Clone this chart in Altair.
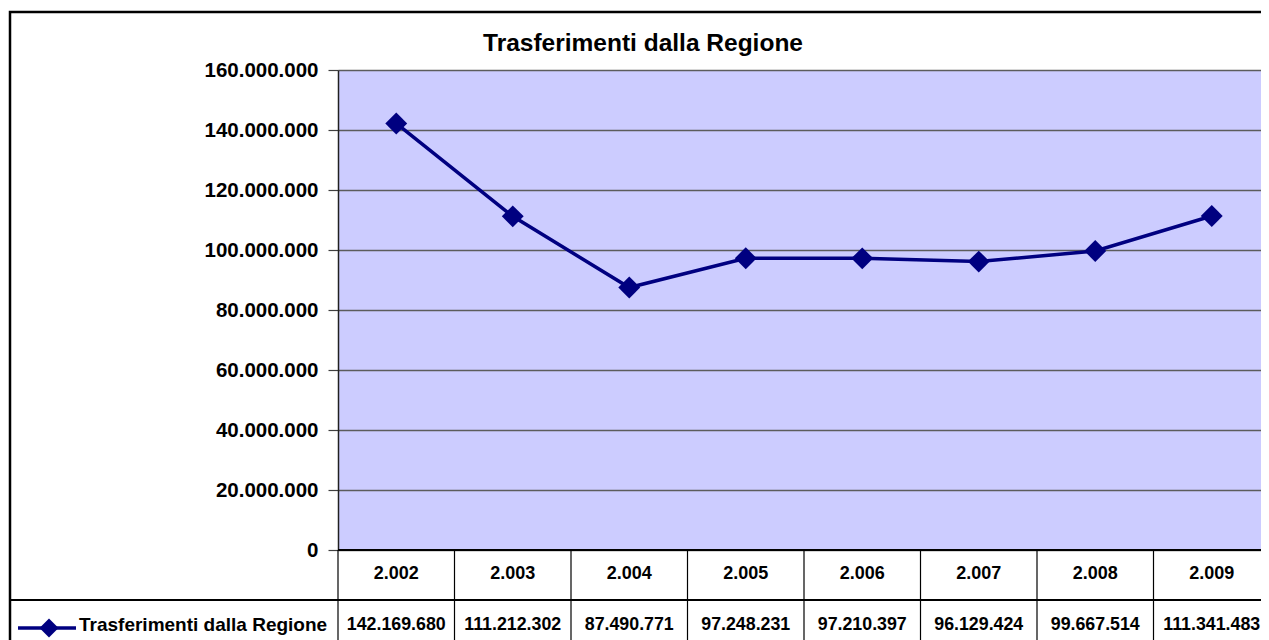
import altair as alt
import pandas as pd

# ---- data ----
years = [2002, 2003, 2004, 2005, 2006, 2007, 2008, 2009]
values = [142169680, 111212302, 87490771, 97248231, 97210397, 96129424, 99667514, 111341483]
series_name = "Trasferimenti dalla Regione"
chart_title = "Trasferimenti dalla Regione"
y_ticks = [0, 20000000, 40000000, 60000000, 80000000, 100000000, 120000000, 140000000, 160000000]

# ---- layout / style ----
W, H = 923, 480          # visible plot area (the reference is cut at the window's right edge)
XRANGE = 932             # full extent of the category columns
FONT = "Liberation Sans, Arial, sans-serif"
NAVY = "#000080"
FMT = "replace(format({}, ','), regexp(',', 'g'), '.')"

df = pd.DataFrame({"anno": years, "valore": values})
one = pd.DataFrame({"serie": [series_name], "titolo": [chart_title]})

base = alt.Chart(df).transform_calculate(
    anno_lbl=FMT.format("datum.anno"),
    val_lbl=FMT.format("datum.valore"),
)

xscale = alt.Scale(type="band", paddingInner=0, paddingOuter=0, range=[0, XRANGE])
x_mid = alt.X("anno:O", scale=xscale, axis=None, bandPosition=0.5)
x_start = alt.X("anno:O", scale=xscale, axis=None, bandPosition=0)

y_enc = alt.Y(
    "valore:Q",
    scale=alt.Scale(domain=[0, 160000000], nice=False),
    axis=alt.Axis(
        values=y_ticks,
        labelExpr=FMT.format("datum.value"),
        title=None,
        grid=True,
        gridColor="#5c5c5c",
        gridWidth=1.5,
        tickColor="#404040",
        tickSize=10,
        tickWidth=1.2,
        domainColor="#202020",
        domainWidth=1.5,
        labelPadding=10,
        labelFont=FONT,
        labelFontSize=20.5,
        labelFontWeight="bold",
        labelColor="black",
    ),
)

line = base.mark_line(color=NAVY, strokeWidth=3.5).encode(x=x_mid, y=y_enc)
points = base.mark_point(shape="diamond", filled=True, size=480, color=NAVY, opacity=1).encode(x=x_mid, y=y_enc)

# table grid
bottom_border = base.mark_rule(color="black", strokeWidth=2).encode(
    x=alt.value(0), x2=alt.value(XRANGE), y=alt.value(H)
)
row_line = base.mark_rule(color="black", strokeWidth=1.2).encode(
    x=alt.value(-328), x2=alt.value(XRANGE + 30), y=alt.value(H + 50)
)
col_lines = base.mark_rule(color="black", strokeWidth=1.2).encode(
    x=x_start, y=alt.value(H), y2=alt.value(H + 120)
)

year_text = base.mark_text(font=FONT, fontSize=18, fontWeight="bold", color="black", baseline="middle").encode(
    x=x_mid, y=alt.value(H + 24), text="anno_lbl:N"
)
val_text = base.mark_text(font=FONT, fontSize=17.8, fontWeight="bold", color="black", baseline="middle").encode(
    x=x_mid, y=alt.value(H + 75), text="val_lbl:N"
)

# legend cell
leg_line = alt.Chart(one).mark_rule(color=NAVY, strokeWidth=3.5).encode(
    x=alt.value(-320), x2=alt.value(-262), y=alt.value(H + 78)
)
leg_pt = alt.Chart(one).mark_point(shape="diamond", filled=True, size=360, color=NAVY, opacity=1).encode(
    x=alt.value(-289), y=alt.value(H + 78)
)
leg_txt = alt.Chart(one).mark_text(
    font=FONT, fontSize=19, fontWeight="bold", color="black", align="left", baseline="middle"
).encode(x=alt.value(-259), y=alt.value(H + 75), text="serie:N")

title_txt = alt.Chart(one).mark_text(
    font=FONT, fontSize=24.5, fontWeight="bold", color="black", align="center", baseline="alphabetic"
).encode(x=alt.value(305), y=alt.value(-19), text="titolo:N")

frame = alt.Chart(one).mark_rect(filled=False, stroke="black", strokeWidth=2.5).encode(
    x=alt.value(-328), x2=alt.value(XRANGE + 25), y=alt.value(-58), y2=alt.value(H + 115)
)

chart = (
    alt.layer(
        frame, line, points, bottom_border, row_line, col_lines,
        year_text, val_text, leg_line, leg_pt, leg_txt, title_txt,
    )
    .properties(
        width=W,
        height=H,
        padding={"left": 330, "top": 62, "right": 0, "bottom": 90},
        autosize=alt.AutoSizeParams(type="none"),
        background="white",
    )
    .configure_view(fill="#CCCCFF", strokeWidth=0)
)

chart.save("out.html", embed_options={"renderer": "svg", "actions": False})
